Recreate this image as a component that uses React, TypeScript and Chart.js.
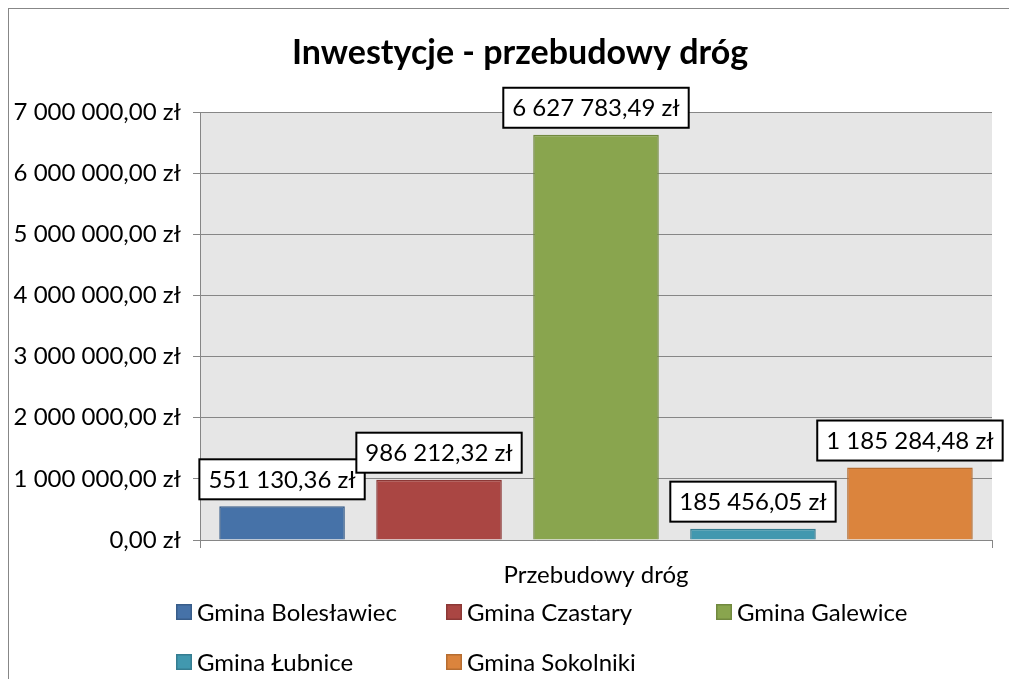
import React, { useEffect, useRef } from "react";
import { Chart, registerables } from "chart.js";

Chart.register(...registerables);

const TITLE = "Inwestycje - przebudowy dróg";
const CATEGORIES = ["Przebudowy dróg"];
const SERIES_NAMES = [
  "Gmina Bolesławiec",
  "Gmina Czastary",
  "Gmina Galewice",
  "Gmina Łubnice",
  "Gmina Sokolniki",
];
const SERIES_VALUES = [551130.36, 986212.32, 6627783.49, 185456.05, 1185284.48];
const FILL_COLORS = ["#4672A8", "#AA4643", "#89A54E", "#4198AF", "#DB843D"];
const BORDER_COLORS = ["#385D8A", "#8C3836", "#71893F", "#357D91", "#B66D31"];
const Y_MIN = 0;
const Y_MAX = 7000000;
const Y_STEP = 1000000;

const FONT = "Lato";
const FS = 24;
const GRID = "#868686";

function fmtZl(v: number): string {
  const [i, d] = Math.abs(v).toFixed(2).split(".");
  const withSep = i.replace(/\B(?=(\d{3})+(?!\d))/g, " ");
  return (v < 0 ? "-" : "") + withSep + "," + d + " zł";
}

const titleShift = {
  id: "titleShift",
  afterLayout(chart: any) {
    const t = chart.titleBlock;
    if (t) {
      t.left = 39;
      t.width = t.right - t.left;
    }
  },
};

const plotBg = {
  id: "plotBg",
  beforeDraw(chart: any) {
    const { ctx, chartArea } = chart;
    ctx.save();
    ctx.fillStyle = "#E6E6E6";
    ctx.fillRect(chartArea.left, chartArea.top, chartArea.right - chartArea.left, chartArea.bottom - chartArea.top);
    ctx.restore();
  },
};

const boxLabels = {
  id: "boxLabels",
  afterDatasetsDraw(chart: any) {
    const { ctx } = chart;
    ctx.save();
    ctx.font = `${FS}px ${FONT}`;
    chart.data.datasets.forEach((ds: any, i: number) => {
      const meta = chart.getDatasetMeta(i);
      meta.data.forEach((el: any, j: number) => {
        const text = fmtZl(ds.data[j]);
        const w = ctx.measureText(text).width + 18;
        const h = 40;
        const x = el.x - w / 2;
        const y = el.y - 7 - h;
        ctx.fillStyle = "#FFFFFF";
        ctx.fillRect(x, y, w, h);
        ctx.strokeStyle = "#000000";
        ctx.lineWidth = 2;
        ctx.strokeRect(x, y, w, h);
        ctx.fillStyle = "#000000";
        ctx.textAlign = "center";
        ctx.textBaseline = "middle";
        ctx.fillText(text, el.x, y + h / 2 + 1);
      });
    });
    ctx.restore();
  },
};

const gridLegend = {
  id: "gridLegend",
  afterDraw(chart: any) {
    const { ctx } = chart;
    ctx.save();
    ctx.font = `${FS}px ${FONT}`;
    ctx.textBaseline = "middle";
    ctx.textAlign = "left";
    chart.data.datasets.forEach((ds: any, i: number) => {
      const col = i % 3;
      const row = Math.floor(i / 3);
      const bx = 167 + col * 270;
      const cy = 603 + row * 50;
      ctx.fillStyle = ds.backgroundColor;
      ctx.fillRect(bx, cy - 8, 16, 16);
      ctx.strokeStyle = ds.borderColor;
      ctx.lineWidth = 1.5;
      ctx.strokeRect(bx + 0.75, cy - 8 + 0.75, 14.5, 14.5);
      ctx.fillStyle = "#000000";
      ctx.fillText(ds.label, bx + 21, cy + 1);
    });
    ctx.restore();
  },
};

export default function App() {
  const ref = useRef<HTMLCanvasElement | null>(null);

  useEffect(() => {
    document.documentElement.style.overflow = "hidden";
    if (!ref.current) return;
    const chart = new Chart(ref.current, {
      type: "bar",
      data: {
        labels: CATEGORIES,
        datasets: SERIES_NAMES.map((name, i) => ({
          label: name,
          data: [SERIES_VALUES[i]],
          backgroundColor: FILL_COLORS[i],
          borderColor: BORDER_COLORS[i],
          borderWidth: 1.5,
          barPercentage: 0.8,
          categoryPercentage: 0.991,
        })),
      },
      options: {
        animation: false,
        responsive: false,
        layout: { padding: { left: 0, right: 25, top: 0, bottom: 0 } },
        plugins: {
          legend: { display: false },
          tooltip: { enabled: false },
          title: {
            display: true,
            text: TITLE,
            color: "#000000",
            font: { family: FONT, size: 34, weight: "bold" },
            padding: { top: 24, bottom: 38.2 },
          },
        },
        scales: {
          x: {
            afterFit: (s: any) => {
              s.height = 139;
            },
            grid: {
              drawOnChartArea: false,
              drawTicks: true,
              tickLength: 8,
              color: GRID,
              offset: true,
            },
            border: { display: true, color: GRID, width: 1 },
            ticks: {
              color: "#000000",
              font: { family: FONT, size: FS },
              padding: 13,
            },
          },
          y: {
            min: Y_MIN,
            max: Y_MAX,
            afterFit: (s: any) => {
              s.width = 191;
            },
            grid: { color: GRID, drawTicks: true, tickLength: 7 },
            border: { display: true, color: GRID, width: 1 },
            ticks: {
              stepSize: Y_STEP,
              color: "#000000",
              font: { family: FONT, size: FS },
              padding: 12,
              callback: (v: any) => fmtZl(Number(v)),
            },
          },
        },
      },
      plugins: [titleShift, plotBg, boxLabels, gridLegend],
    });
    return () => chart.destroy();
  }, []);

  return (
    <div
      style={{
        width: 1009,
        height: 671,
        boxSizing: "border-box",
        borderTop: "1px solid #878787",
        borderLeft: "1px solid #878787",
        overflow: "hidden",
      }}
    >
      <canvas ref={ref} width={1008} height={670} style={{ display: "block" }} />
    </div>
  );
}
